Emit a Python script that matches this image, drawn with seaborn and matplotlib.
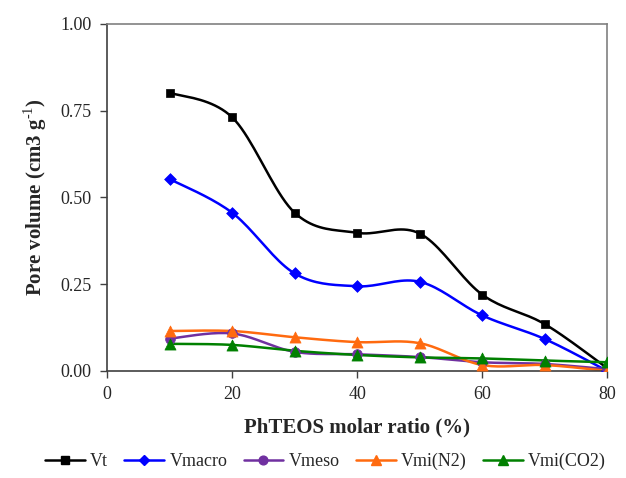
import numpy as np
import pandas as pd
import matplotlib
matplotlib.use("Agg")
import matplotlib.pyplot as plt
import seaborn as sns
from matplotlib.lines import Line2D

ratio = [10, 20, 30, 40, 50, 60, 70, 80]
vt = [0.802, 0.731, 0.456, 0.398, 0.396, 0.220, 0.135, 0.008]
vmacro = [0.553, 0.456, 0.281, 0.244, 0.257, 0.160, 0.092, 0.000]
vmeso = [0.093, 0.108, 0.055, 0.048, 0.040, 0.025, 0.020, 0.005]
vmi_n2 = [0.115, 0.115, 0.097, 0.083, 0.080, 0.017, 0.017, 0.000]
vmi_co2 = [0.078, 0.075, 0.058, 0.046, 0.039, 0.036, 0.030, 0.025]

series_names = ["Vt", "Vmacro", "Vmeso", "Vmi(N2)", "Vmi(CO2)"]
series_vals = [vt, vmacro, vmeso, vmi_n2, vmi_co2]
colors = ["#000000", "#0000FF", "#7030A0", "#FF6A0F", "#008000"]
markers = ["s", "D", "o", "^", "^"]
msizes = [6, 6, 7, 8, 8]

sns.set_theme(style="white")
plt.rcParams["font.family"] = ["Liberation Serif", "DejaVu Serif"]
plt.rcParams["mathtext.fontset"] = "custom"
plt.rcParams["mathtext.rm"] = "Liberation Serif"
plt.rcParams["mathtext.bf"] = "Liberation Serif:bold"


def smooth(x, y, n=20):
    x = np.asarray(x, float)
    y = np.asarray(y, float)
    xs, ys = [], []
    for i in range(len(x) - 1):
        p0 = i - 1 if i > 0 else i
        p3 = i + 2 if i + 2 < len(x) else i + 1
        t = np.linspace(0, 1, n, endpoint=False)
        for arr, out in ((x, xs), (y, ys)):
            P0, P1, P2, P3 = arr[p0], arr[i], arr[i + 1], arr[p3]
            c1 = P1 + (P2 - P0) / 6
            c2 = P2 - (P3 - P1) / 6
            out.extend((1 - t) ** 3 * P1 + 3 * (1 - t) ** 2 * t * c1
                       + 3 * (1 - t) * t ** 2 * c2 + t ** 3 * P2)
    xs.append(x[-1])
    ys.append(y[-1])
    return np.array(xs), np.array(ys)


fig = plt.figure(figsize=(6.26, 4.78), dpi=100)
ax = fig.add_axes([0.171, 0.224, 0.799, 0.726])

handles = []
for name, vals, c, m, ms in zip(series_names, series_vals, colors, markers, msizes):
    sx, sy = smooth(ratio, vals)
    sdf = pd.DataFrame({"x": sx, "y": sy})
    sns.lineplot(data=sdf, x="x", y="y", ax=ax, color=c, lw=1.8, sort=False,
                 estimator=None, zorder=2)
    pdf = pd.DataFrame({"x": ratio, "y": vals})
    sns.scatterplot(data=pdf, x="x", y="y", ax=ax, color=c, marker=m, s=ms ** 2,
                    edgecolor=c, linewidth=0.5, zorder=3)
    handles.append(Line2D([], [], color=c, lw=1.8, marker=m, markersize=ms * 0.9,
                          label=name))

ax.set_xlim(0, 80)
ax.set_ylim(0, 1.0)
ax.set_xticks([0, 20, 40, 60, 80])
ax.set_yticks([0, 0.25, 0.5, 0.75, 1.0])
ax.set_yticklabels(["0.00", "0.25", "0.50", "0.75", "1.00"])
ax.tick_params(axis="both", which="both", direction="out", length=5, width=1,
               color="#404040", labelsize=13, pad=6, left=True, bottom=True)
for s in ["left", "bottom"]:
    ax.spines[s].set_color("#404040")
    ax.spines[s].set_linewidth(1.2)
for s in ["top", "right"]:
    ax.spines[s].set_color("#808080")
    ax.spines[s].set_linewidth(1.2)
    ax.spines[s].set_visible(True)

ax.set_xlabel("PhTEOS molar ratio (%)", fontsize=15, fontweight="bold", labelpad=10)
ax.set_ylabel("Pore volume (cm3 g$^{\\mathbf{\\text{-1}}}$)", fontsize=15,
              fontweight="bold", labelpad=8)

fig.legend(handles=handles, loc="center", bbox_to_anchor=(0.52, 0.035), ncol=5,
           frameon=False, fontsize=13, handlelength=2.2, columnspacing=0.9,
           handletextpad=0.3)

fig.savefig("out.png", dpi=100)
